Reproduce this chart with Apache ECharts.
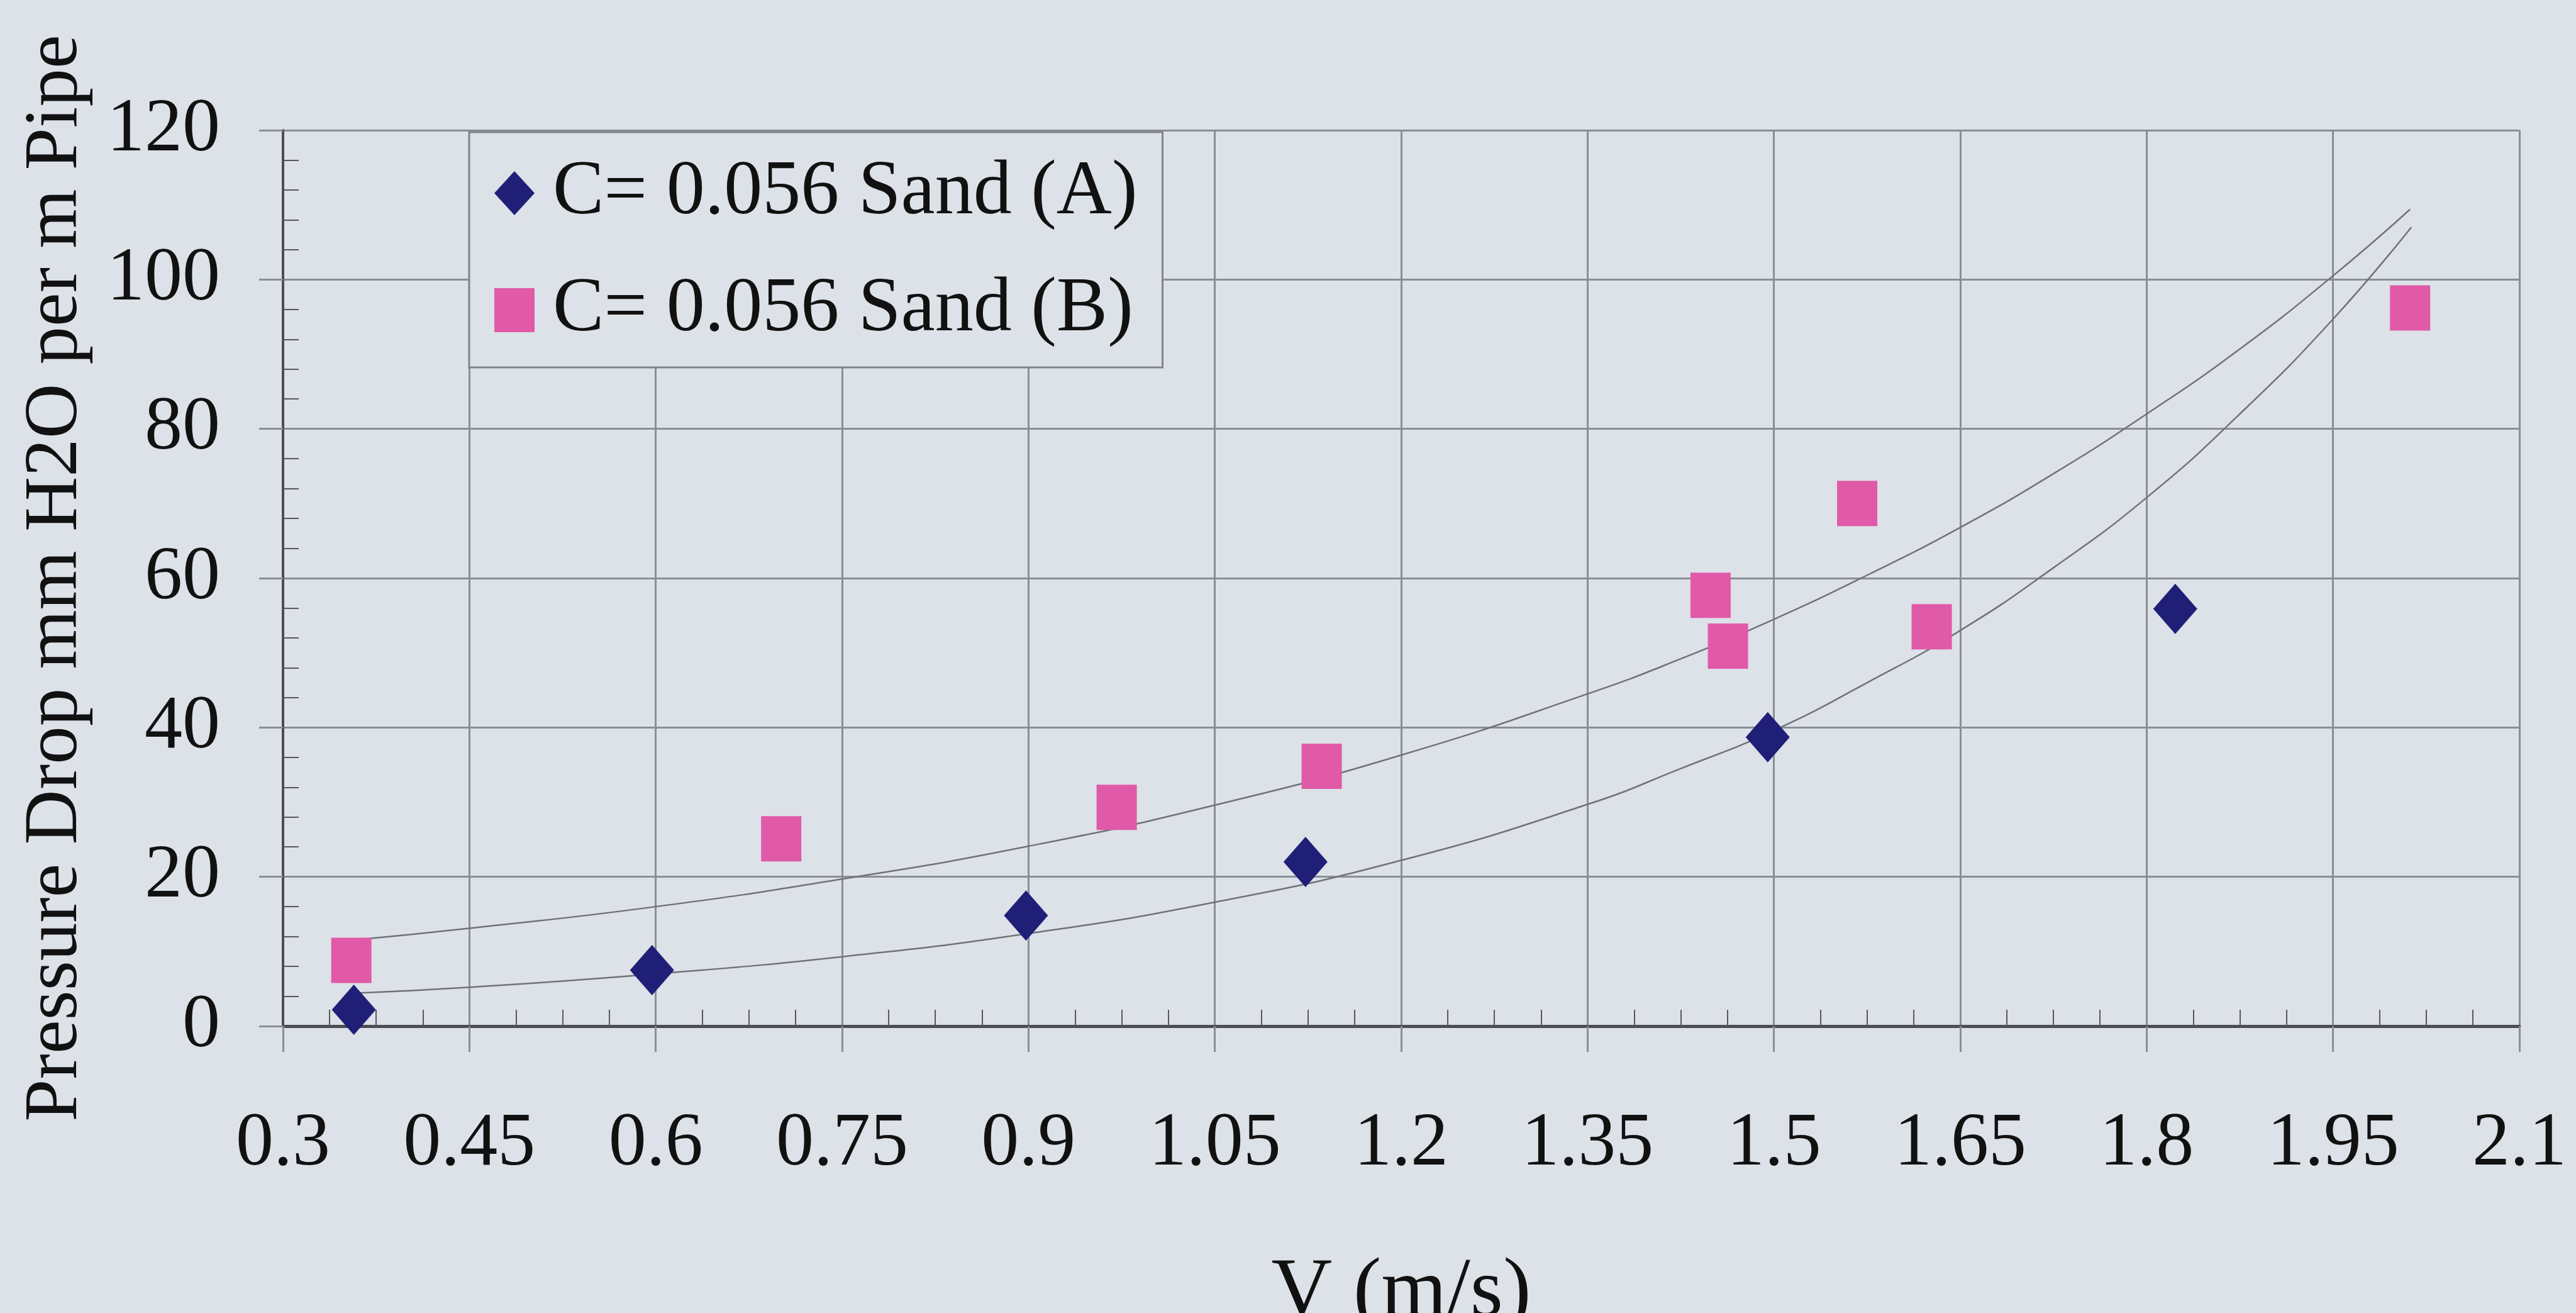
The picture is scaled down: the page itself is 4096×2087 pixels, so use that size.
<!DOCTYPE html>
<html>
<head>
<meta charset="utf-8">
<script src="https://cdn.jsdelivr.net/npm/echarts@6/dist/echarts.min.js"></script>
<style>
html,body{margin:0;padding:0;background:#dde1e8;}
#chart{width:4096px;height:2087px;}
</style>
</head>
<body>
<div id="chart"></div>
<script>
// Data
var seriesAName = 'C= 0.056 Sand (A)';
var seriesBName = 'C= 0.056 Sand (B)';
var sandA = [[0.357, 2.2], [0.597, 7.5], [0.898, 14.8], [1.123, 22.0], [1.495, 38.7], [1.823, 55.9]];
var sandB = [[0.355, 8.8], [0.701, 25.1], [0.971, 29.3], [1.136, 34.8], [1.449, 57.7], [1.463, 50.9], [1.567, 70.0], [1.627, 53.5], [2.012, 96.2]];
// Trend curves
var trendA = [[0.357, 4.4], [0.45, 5.2], [0.6, 7.0], [0.75, 9.3], [0.9, 12.4], [1.05, 16.6], [1.2, 22.2], [1.35, 29.7], [1.425, 34.5], [1.5, 39.6], [1.575, 46.0], [1.65, 53.0], [1.725, 61.4], [1.8, 70.8], [1.875, 82.0], [1.95, 94.7], [2.013, 107.0]];
var trendB = [[0.355, 11.5], [0.45, 13.1], [0.6, 16.0], [0.75, 19.7], [0.9, 24.1], [1.05, 29.6], [1.2, 36.3], [1.35, 44.5], [1.425, 49.2], [1.5, 54.5], [1.575, 60.4], [1.65, 66.8], [1.725, 74.0], [1.8, 82.0], [1.875, 90.7], [1.95, 100.5], [2.012, 109.4]];
var xTicks = {min: 0.3, max: 2.1, interval: 0.15};
var yTicks = {min: 0, max: 120, interval: 20};
var xTitle = 'V (m/s)';
var yTitle = 'Pressure Drop mm H2O per m Pipe';

var FONT = '"Liberation Serif", "DejaVu Serif", serif';
var gridColor = '#8a8e95';
var chart = echarts.init(document.getElementById('chart'));
var option = {
  backgroundColor: '#dde1e8',
  animation: false,
  grid: {left: 450, right: 90, top: 207, bottom: 456, containLabel: false, outerBoundsMode: 'none'},
  legend: {
    show: true,
    orient: 'vertical',
    left: 746, top: 210,
    padding: [36, 40, 30, 40],
    itemGap: 64,
    itemWidth: 64, itemHeight: 70,
    backgroundColor: '#dde1e8',
    borderColor: '#80848b', borderWidth: 3,
    textStyle: {fontFamily: FONT, fontSize: 122, color: '#111', padding: [0, 0, 0, 24]},
    data: [seriesAName, seriesBName]
  },
  xAxis: [{
    type: 'value', min: xTicks.min, max: xTicks.max, interval: xTicks.interval,
    name: xTitle, nameLocation: 'middle', nameGap: 358,
    nameTextStyle: {fontFamily: FONT, fontSize: 134, color: '#111'},
    axisLine: {show: true, lineStyle: {color: '#4a4d52', width: 5}},
    axisTick: {show: true, inside: false, length: 41, lineStyle: {color: gridColor, width: 3}},
    minorTick: {show: false},
    axisLabel: {fontFamily: FONT, fontSize: 120, color: '#111', margin: 128,
      formatter: function (v) { return String(Math.round(v * 100) / 100); }},
    splitLine: {show: true, lineStyle: {color: gridColor, width: 3}}
  }, {
    type: 'value', min: xTicks.min, max: xTicks.max, interval: xTicks.interval,
    position: 'bottom',
    axisLine: {show: false},
    axisTick: {show: false, inside: true},
    minorTick: {show: true, splitNumber: 4, length: 26, lineStyle: {color: '#55585d', width: 2}},
    axisLabel: {show: false},
    splitLine: {show: false}
  }],
  yAxis: [{
    type: 'value', min: yTicks.min, max: yTicks.max, interval: yTicks.interval,
    name: yTitle, nameLocation: 'middle', nameGap: 300, nameRotate: 90,
    nameTextStyle: {fontFamily: FONT, fontSize: 121, color: '#111'},
    axisLine: {show: true, lineStyle: {color: '#4a4d52', width: 4}},
    axisTick: {show: true, inside: false, length: 38, lineStyle: {color: gridColor, width: 3}},
    minorTick: {show: false},
    axisLabel: {fontFamily: FONT, fontSize: 120, color: '#111', margin: 100},
    splitLine: {show: true, lineStyle: {color: gridColor, width: 3}}
  }, {
    type: 'value', min: yTicks.min, max: yTicks.max, interval: yTicks.interval,
    position: 'left',
    axisLine: {show: false},
    axisTick: {show: false, inside: true},
    minorTick: {show: true, splitNumber: 5, length: 25, lineStyle: {color: '#55585d', width: 2}},
    axisLabel: {show: false},
    splitLine: {show: false}
  }],
  series: [
    {
      name: 'trendB', type: 'line', data: trendB, smooth: 0.5, symbol: 'none',
      lineStyle: {color: '#6f7379', width: 2.5}, z: 2, silent: true
    },
    {
      name: 'trendA', type: 'line', data: trendA, smooth: 0.5, symbol: 'none',
      lineStyle: {color: '#6f7379', width: 2.5}, z: 2, silent: true
    },
    {
      name: seriesAName, type: 'scatter', data: sandA,
      symbol: 'diamond', symbolSize: [70, 80],
      itemStyle: {color: '#1f1f78', opacity: 1}, z: 3
    },
    {
      name: seriesBName, type: 'scatter', data: sandB,
      symbol: 'rect', symbolSize: [64, 72],
      itemStyle: {color: '#e05aa8', opacity: 1}, z: 3
    }
  ]
};
chart.setOption(option);
</script>
</body>
</html>
